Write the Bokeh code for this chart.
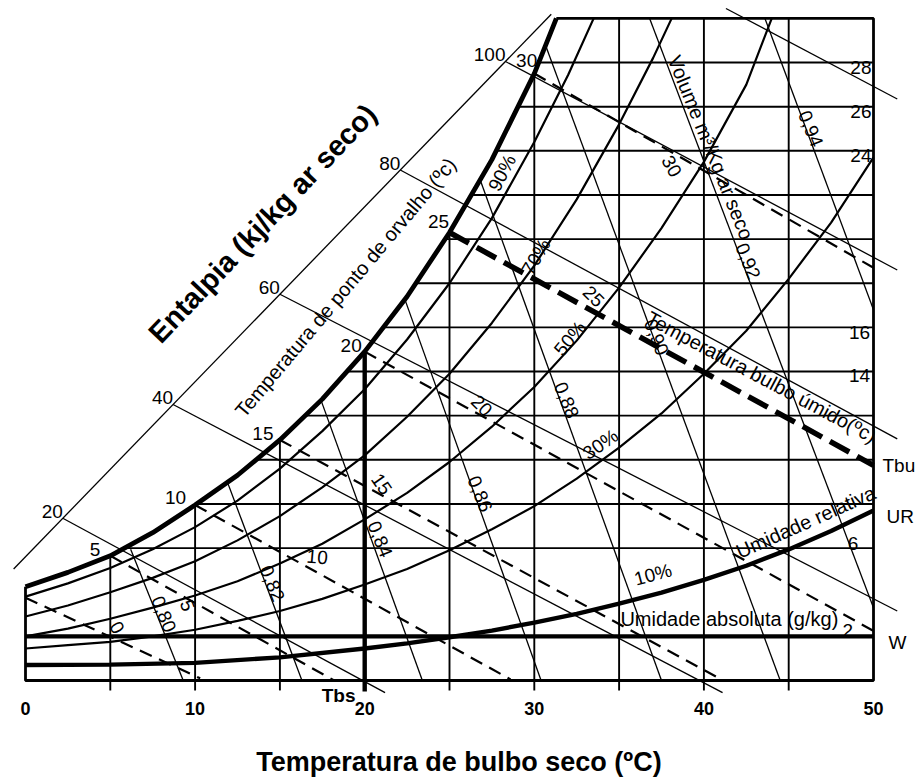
import numpy as np
from bokeh.plotting import figure
from bokeh.models import Range1d, FixedTicker
from bokeh.core.properties import value
from bokeh.embed import file_html
from bokeh.resources import INLINE

# ---------------- values ----------------
x_ticks = [0, 10, 20, 30, 40, 50]
grid_T = [5, 10, 15, 25, 30, 35, 40, 45]
grid_W = [6, 8, 10, 12, 14, 16, 18, 20, 22, 24, 26, 28]
w_tick_labels = [28, 26, 24, 16, 14, 6, 2]

# saturation curve (dew point)
sat_T = [0, 2.5, 5, 7.5, 10, 12.5, 15, 17.5, 20, 22.5, 25, 27.5, 30, 31.3]
sat_W = [4.25, 4.9, 5.65, 6.7, 7.95, 9.3, 10.9, 12.75, 14.9, 17.4, 20.3, 23.6, 27.5, 30.0]

# relative humidity curves
rh_labels = ["90%", "70%", "50%", "30%", "10%"]
rh90_T = [0, 2.5, 5, 7.5, 10, 12.5, 15, 17.5, 20, 22.5, 25, 27.5, 30, 32, 33.5]
rh90_W = [3.8, 4.4, 5.1, 5.95, 6.95, 8.15, 9.6, 11.3, 13.2, 15.45, 18.0, 20.95, 24.4, 27.45, 30.0]
rh70_T = [0, 2.5, 5, 7.5, 10, 12.5, 15, 17.5, 20, 22.5, 25, 27.5, 30, 32.5, 35, 37, 38.1]
rh70_W = [2.9, 3.4, 4.0, 4.65, 5.4, 6.35, 7.45, 8.75, 10.2, 11.95, 13.9, 16.2, 18.8, 21.8, 25.2, 28.2, 30.0]
rh50_T = [0, 2.5, 5, 7.5, 10, 12.5, 15, 17.5, 20, 22.5, 25, 27.5, 30, 32.5, 35, 37.5, 40, 42.5, 44.0]
rh50_W = [2.0, 2.35, 2.8, 3.3, 3.85, 4.5, 5.3, 6.2, 7.3, 8.5, 9.9, 11.5, 13.3, 15.4, 17.8, 20.5, 23.5, 27.0, 30.0]
rh30_T = [0, 2.5, 5, 7.5, 10, 12.5, 15, 17.5, 20, 22.5, 25, 27.5, 30, 32.5, 35, 37.5, 40, 42.5, 45, 47.5, 50]
rh30_W = [1.45, 1.6, 1.75, 2.0, 2.3, 2.7, 3.15, 3.7, 4.35, 5.05, 5.9, 6.85, 7.9, 9.15, 10.55, 12.1, 13.9, 15.85, 18.2, 20.75, 23.7]
rh10_T = [0, 5, 10, 15, 20, 22.5, 25, 27.5, 30, 32.5, 35, 37.5, 40, 42.5, 45, 47.5, 50]
rh10_W = [0.7, 0.72, 0.8, 1.05, 1.45, 1.68, 1.96, 2.26, 2.62, 3.02, 3.48, 3.98, 4.56, 5.2, 5.94, 6.77, 7.7]

# wet bulb lines (dashed)
wb_vals = [0, 5, 10, 15, 20, 25, 30]
wb_start_T = [0, 5, 10, 15, 20, 25, 30]
wb_start_W = [3.75, 5.65, 7.95, 10.9, 14.9, 20.3, 27.5]
wb_end_T = [10.3, 18.2, 28.6, 40.9, 50, 50, 50]
wb_end_W = [0.1, 0.0, 0.05, 0.1, 2.25, 9.75, 18.7]

# enthalpy scale and lines
h_vals = [20, 40, 60, 80, 100]
h_axis_T = [2.2, 8.7, 15.0, 22.1, 28.3]
h_end_T = [21.2, 41.1, 51.4, 51.4, 51.4]
h_end_W = [-0.55, -0.55, 3.15, 10.95, 18.6]
h120_T = [41.3, 51.4]
h120_W = [30.45, 26.35]
hax_T = [-0.7, 31.0]
hax_W = [5.05, 30.19]

# specific volume lines
v_vals = [0.80, 0.82, 0.84, 0.86, 0.88, 0.90, 0.92, 0.94]
v_start_T = [6.2, 11.9, 17.4, 22.4, 26.8, 30.7, 36.8, 43.6]
v_start_W = [5.95, 9.0, 12.75, 17.2, 22.7, 28.7, 30.0, 30.0]
v_end_T = [9.3, 16.3, 23.4, 30.4, 37.5, 44.5, 50.0, 50.0]
v_end_W = [0.0, 0.0, 0.0, 0.0, 0.0, 0.0, 3.3, 16.8]

dew_vals = [5, 10, 15, 20, 25, 30]
tbs_T = 20

# ---------------- label placements ----------------
dew_lbl_T = [4.1, 8.85, 14.0, 19.2, 24.35, 29.55]
dew_lbl_W = [5.95, 8.3, 11.2, 15.2, 20.8, 28.1]
wb_lbl_T = [5.4, 9.55, 17.2, 21.0, 26.9, 33.5, 38.1]
wb_lbl_W = [2.4, 3.4, 5.6, 8.9, 12.45, 17.4, 23.3]
wb_lbl_ang = [-60, -70, -5, -55, -45, -45, -60]
rh_lbl_T = [28.1, 30.1, 32.1, 33.9, 37.0]
rh_lbl_W = [23.0, 19.2, 15.5, 10.7, 4.8]
rh_lbl_ang = [62, 60, 50, 35, 15]
v_lbl_T = [8.15, 14.55, 20.9, 26.8, 31.9, 37.2, 42.6, 46.3]
v_lbl_W = [3.0, 4.4, 6.4, 8.45, 12.7, 15.55, 19.0, 25.0]
w_lbl_T = [49.88, 49.88, 49.88, 49.8, 49.8, 49.1, 48.8]
w_lbl_W = [27.77, 25.78, 23.79, 15.77, 13.82, 6.21, 2.27]

NUM_FONT = "Liberation Sans"
TXT_FONT = "Liberation Sans"

p = figure(width=917, height=778,
           x_range=Range1d(-1.474, 52.594), y_range=Range1d(-4.440, 30.811),
           output_backend="svg", toolbar_location=None, min_border=0,
           y_axis_location=None, outline_line_color=None,
           background_fill_color="white", border_fill_color="white")
p.xgrid.visible = False
p.ygrid.visible = False

ax = p.xaxis[0]
ax.fixed_location = 0
ax.ticker = FixedTicker(ticks=x_ticks)
ax.axis_line_color = None
ax.major_tick_line_color = None
ax.minor_tick_line_color = None
ax.major_label_standoff = 15
ax.major_label_text_font = NUM_FONT
ax.major_label_text_font_style = "bold"
ax.major_label_text_font_size = "18px"
ax.major_label_text_color = "black"
ax.axis_label = "Temperatura de bulbo seco (ºC)"
ax.axis_label_text_font = TXT_FONT
ax.axis_label_text_font_style = "bold"
ax.axis_label_text_font_size = "27px"
ax.axis_label_text_color = "black"
ax.axis_label_standoff = 29

K = "black"

# grid lines
vx = [[t, t] for t in grid_T]
vy = [[float(np.interp(t, sat_T, sat_W)), -0.45] for t in grid_T]
p.multi_line(vx, vy, line_color=K, line_width=1.9)
hx = [[float(np.interp(w, sat_W, sat_T)), 50] for w in grid_W]
hy = [[w, w] for w in grid_W]
p.multi_line(hx, hy, line_color=K, line_width=1.9)

# enthalpy axis and lines
p.line(hax_T, hax_W, line_color=K, line_width=1.3)
h_axis_W = list(np.interp(h_axis_T, hax_T, hax_W))
ex = [[a, b] for a, b in zip(h_axis_T, h_end_T)] + [h120_T]
ey = [[a, b] for a, b in zip(h_axis_W, h_end_W)] + [h120_W]
p.multi_line(ex, ey, line_color=K, line_width=1.3)

# volume lines
p.multi_line([[a, b] for a, b in zip(v_start_T, v_end_T)],
             [[a, b] for a, b in zip(v_start_W, v_end_W)], line_color=K, line_width=1.3)

# relative humidity curves
for tt, ww in [(rh90_T, rh90_W), (rh70_T, rh70_W), (rh50_T, rh50_W), (rh30_T, rh30_W)]:
    p.line(tt, ww, line_color=K, line_width=2.2)
p.line(rh10_T, rh10_W, line_color=K, line_width=4.4)

# wet bulb dashed lines
for i, v in enumerate(wb_vals):
    if v == 25:
        continue
    p.line([wb_start_T[i], wb_end_T[i]], [wb_start_W[i], wb_end_W[i]],
           line_color=K, line_width=2.2, line_dash="13 8")
i25 = wb_vals.index(25)
p.line([wb_start_T[i25], wb_end_T[i25]], [wb_start_W[i25], wb_end_W[i25]],
       line_color=K, line_width=5.5, line_dash="22 9")

# borders and thick lines
p.line([sat_T[-1], 50, 50, 0, 0], [30, 30, 0, 0, sat_W[0]], line_color=K, line_width=2.8)
p.line([0, 50], [2, 2], line_color=K, line_width=4.4)
p.line([tbs_T, tbs_T], [float(np.interp(tbs_T, sat_T, sat_W)), -0.5], line_color=K, line_width=4.4)
p.line(sat_T, sat_W, line_color=K, line_width=4.8)


def txt(x, y, t, size, angle=0, align="center", font=TXT_FONT, style="normal"):
    p.text(x=list(x), y=list(y), text=list(t), angle=angle, angle_units="deg",
           text_align=align, text_baseline="middle", text_font=value(font),
           text_font_size=size, text_font_style=style, text_color=K)


# titles
txt([13.97], [20.71], ["Entalpia (kj/kg ar seco)"], "29px", 46.5, style="bold")
txt([18.87], [17.81], ["Temperatura de ponto de orvalho (ºc)"], "20px", 50)
txt([43.4], [13.75], ["Temperatura bulbo úmido(ºc)"], "20px", -28)
txt([40.4], [24.15], ["Volume m³/Kg ar seco"], "20px", -68)
txt([46.0], [7.18], ["Umidade relativa"], "20px", 24)
txt([41.5], [2.8], ["Umidade absoluta (g/kg)"], "20px", 0)
txt([50.53, 50.77, 50.88], [9.74, 7.43, 1.72], ["Tbu", "UR", "W"], "19px", 0, align="left")
txt([18.46], [-0.68], ["Tbs"], "19px", 0, style="bold")

# numeric labels
txt(w_lbl_T, w_lbl_W, [str(v) for v in w_tick_labels], "19px", 0,
    align="right", font=NUM_FONT)
txt(h_axis_T, [w + 0.3 for w in h_axis_W], [str(v) for v in h_vals], "19px", 0,
    align="right", font=NUM_FONT)
txt(dew_lbl_T, dew_lbl_W, [str(v) for v in dew_vals], "19px", 0, font=NUM_FONT)
for i, v in enumerate(wb_vals):
    txt([wb_lbl_T[i]], [wb_lbl_W[i]], [str(v)], "19px", wb_lbl_ang[i], font=NUM_FONT)
for i, lab in enumerate(rh_labels):
    txt([rh_lbl_T[i]], [rh_lbl_W[i]], [lab], "19px", rh_lbl_ang[i], font=NUM_FONT)
txt(v_lbl_T, v_lbl_W, [f"{v:.2f}".replace(".", ",") for v in v_vals], "19px", -68, font=NUM_FONT)

open("out.html", "w").write(file_html(p, INLINE))
